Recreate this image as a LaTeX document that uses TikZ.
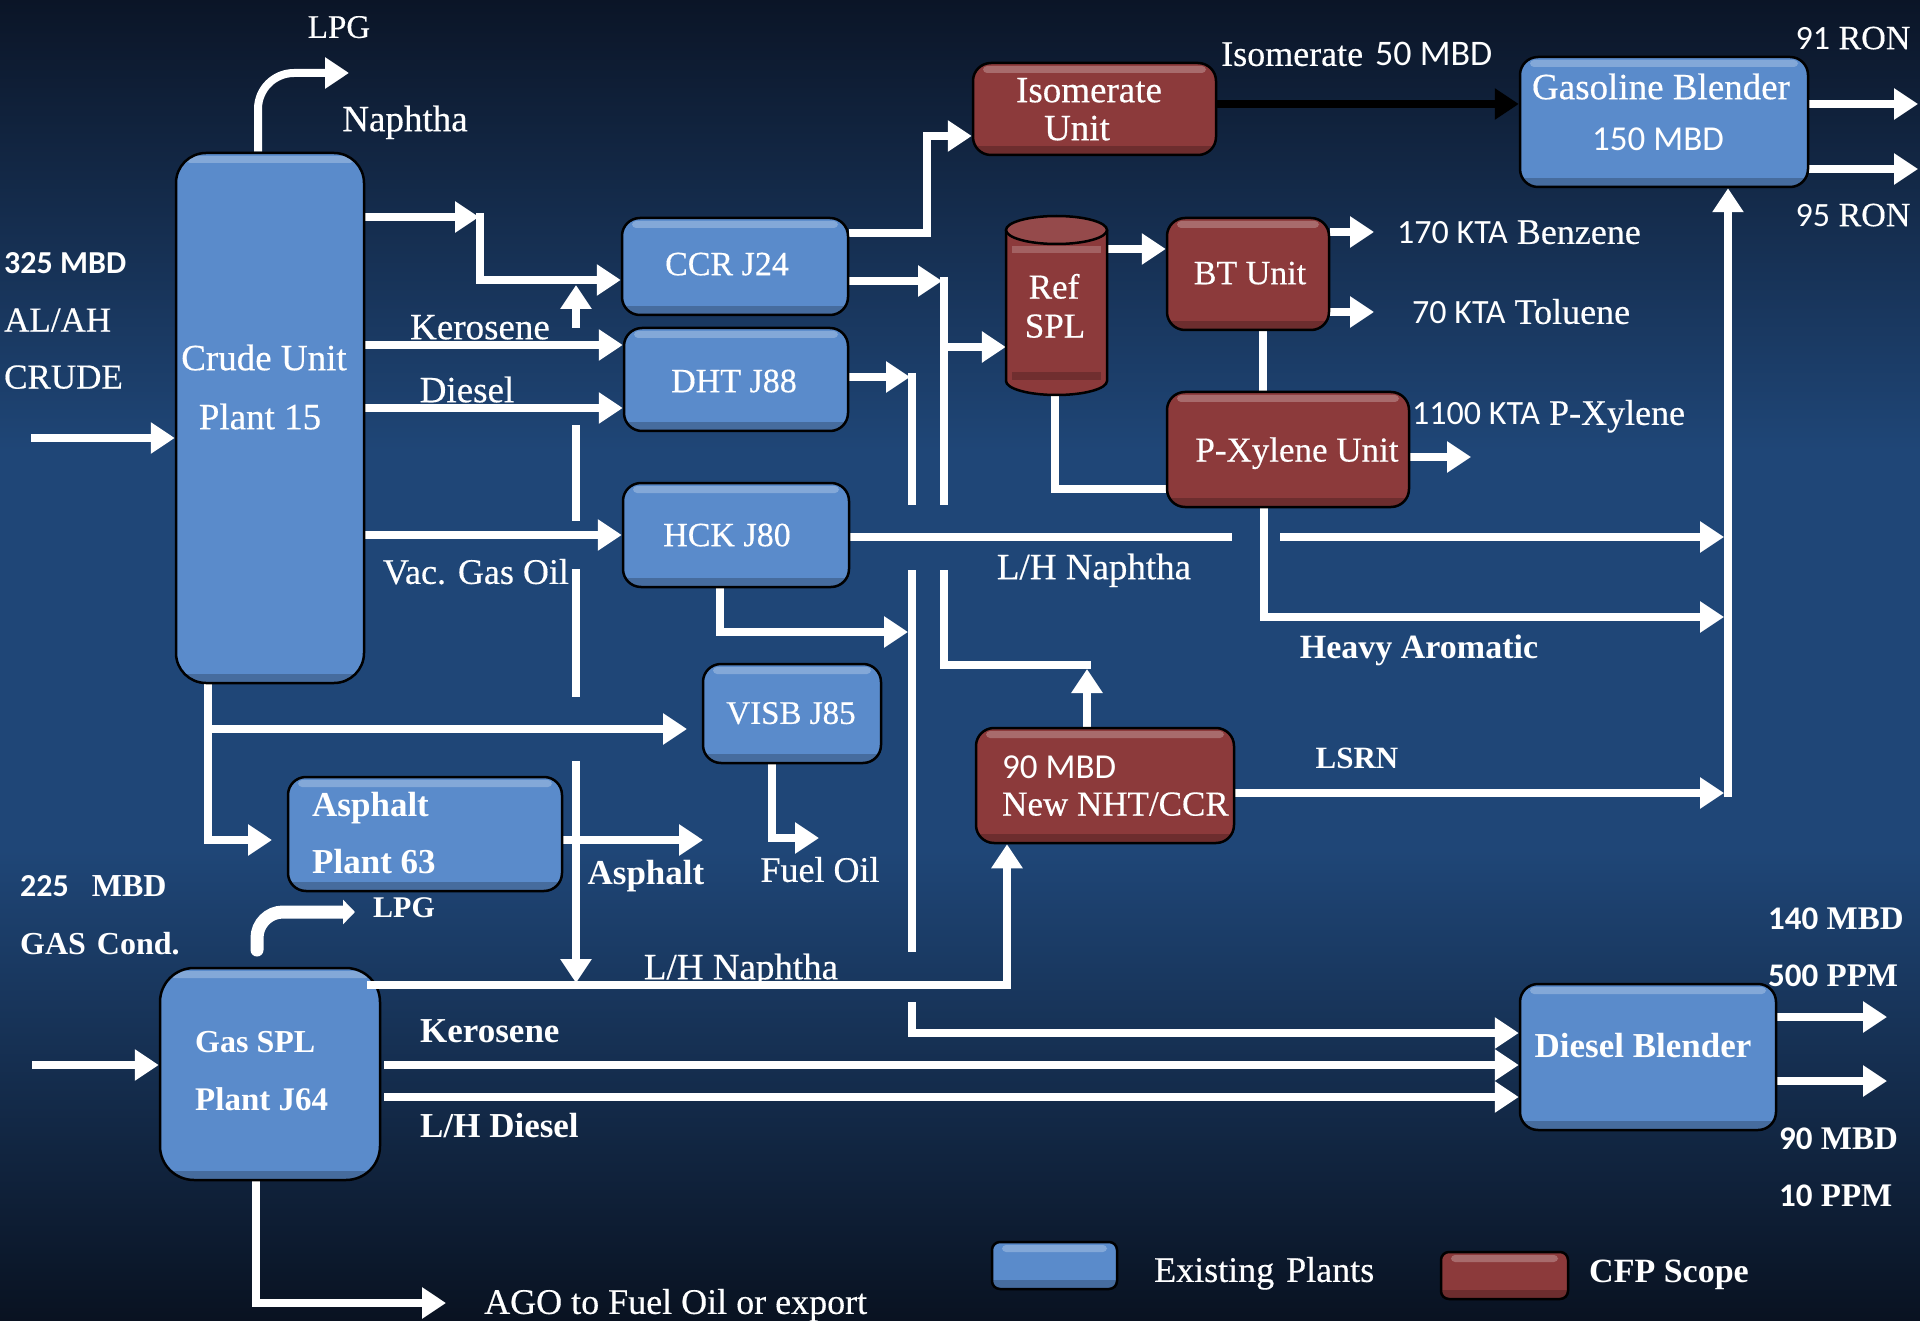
\documentclass[tikz,border=0pt]{standalone}
\usepackage{fontspec}
\setmainfont{Liberation Serif}
\newfontfamily\cf[FakeBold=0.4]{Liberation Serif}
\newfontfamily\sa{Carlito}
\usetikzlibrary{arrows.meta}
\definecolor{boxblue}{HTML}{5A8BCB}
\definecolor{boxred}{HTML}{8C3A3B}
\definecolor{bgtop}{HTML}{0B1527}
\definecolor{bgmid}{HTML}{1F4677}
\definecolor{bgbot}{HTML}{091221}
\newcommand\fs[1]{\fontsize{#1}{#1}\selectfont}
\pgfdeclarelayer{bgfill}
\pgfdeclarelayer{lines}
\pgfsetlayers{bgfill,lines,main}
\tikzset{
  unit/.style={draw=black, line width=2.5pt, rounded corners=18pt, inner sep=0pt,
    path picture={
      \fill[white, opacity=0.25, rounded corners=4pt]
        ([xshift=10pt,yshift=-3pt]path picture bounding box.north west) rectangle
        ([xshift=-10pt,yshift=-10pt]path picture bounding box.north east);
      \fill[black, opacity=0.22, sharp corners]
        ([yshift=9pt]path picture bounding box.south west) rectangle
        (path picture bounding box.south east);
    }},
  ublue/.style={unit, fill=boxblue},
  ured/.style={unit, fill=boxred},
  pipe/.style={draw=white, line width=8pt},
  flow/.style={pipe, -{Triangle[length=24pt,width=30pt]}},
  flowk/.style={draw=black, line width=8pt, -{Triangle[length=24pt,width=30pt]}},
  lpgb/.style={draw=white, line width=13pt, line cap=round, rounded corners=26pt,
    -{Triangle[length=12pt,width=24pt]}},
  lab/.style={text=white, inner sep=0pt, text height=0pt, text depth=0pt},
  cond/.style={lab, font=\cf\fs{#1}, yshift={-0.33*#1}},
  bold/.style={lab, font=\bfseries\fs{#1}, yshift={-0.33*#1}},
  sans/.style={lab, font=\sa\fs{#1}, yshift={-0.32*#1}},
}
\begin{document}
\begin{tikzpicture}[x=1pt,y=-1pt]
\useasboundingbox (0,0) rectangle (1920,1321);
% background
\begin{pgfonlayer}{bgfill}
\fill[top color=bgtop, bottom color=bgmid] (0,0) rectangle (1920,451);
\fill[bgmid] (0,450) rectangle (1920,851);
\fill[top color=bgmid, bottom color=bgbot] (0,850) rectangle (1920,1321);
\end{pgfonlayer}

% boxes
\node[ublue, minimum width=188pt, minimum height=530pt, rounded corners=30pt] (crude) at (270,418) {};
\node[ublue, minimum width=226pt, minimum height=97pt] (ccr) at (735,266.5) {};
\node[ublue, minimum width=224pt, minimum height=103pt] (dht) at (736,379.5) {};
\node[ublue, minimum width=226pt, minimum height=104pt] (hck) at (736,535) {};
\node[ublue, minimum width=178pt, minimum height=99pt] (visb) at (792,713.5) {};
\node[ured, minimum width=243pt, minimum height=92pt] (iso) at (1094.5,109) {};
\node[ured, minimum width=162pt, minimum height=112pt] (bt) at (1248,274) {};
\node[ured, minimum width=242pt, minimum height=115pt] (px) at (1288,449.5) {};
\node[ublue, minimum width=288pt, minimum height=130pt] (gasb) at (1664,122) {};
\node[ured, minimum width=258pt, minimum height=115pt] (nht) at (1105,785.5) {};
\node[ublue, minimum width=274pt, minimum height=114pt] (asph) at (425,834) {};
\node[ublue, minimum width=220pt, minimum height=212pt, rounded corners=34pt] (gasspl) at (270,1074) {};
\node[ublue, minimum width=256pt, minimum height=146pt] (dieselb) at (1648,1057) {};
\node[ublue, minimum width=125pt, minimum height=47pt, rounded corners=8pt] (legb) at (1054.5,1265.5) {};
\node[ured, minimum width=127pt, minimum height=47pt, rounded corners=8pt] (legr) at (1504.5,1275.5) {};
\node[inner sep=0pt, minimum width=101pt, minimum height=179pt] (refspl) at (1056.5,305.5) {};

% Ref SPL cylinder
\fill[boxred] (1006,230) rectangle (1107,381);
\fill[boxred] (1056.5,381) ellipse [x radius=50.5, y radius=14];
\fill[white, opacity=0.2] (1012,246) rectangle (1101,253);
\fill[black, opacity=0.2] (1012,372) rectangle (1101,380);
\draw[black, line width=2.5pt] (1006,230) -- (1006,381)
  arc[start angle=180, end angle=0, x radius=50.5, y radius=14] -- (1107,230);
\draw[black, line width=2.5pt, fill=boxred!92!white] (1056.5,230) ellipse [x radius=50.5, y radius=14];

% connectors
\begin{pgfonlayer}{lines}
\draw[flow] (31,438) -- (crude.west |- 0,438);
\draw[flow, rounded corners=36pt] (crude.north -| 258,0) |- (349,73);
\draw[flow] (crude.east |- 0,217) -- (479,217);
\draw[flow] (480,213) -- (480,280) -- (ccr.west |- 0,280);
\draw[flow] (576,328) -- (576,285);
\draw[flow] (crude.east |- 0,345) -- (dht.west |- 0,345);
\draw[flow] (crude.east |- 0,408) -- (dht.west |- 0,408);
\draw[flow] (crude.east |- 0,535) -- (hck.west);
\draw[pipe] (576,425) -- (576,521);
\draw[pipe] (576,569) -- (576,697);
\draw[flow] (576,761) -- (576,983);
\draw[flow] (crude.south -| 208,0) |- (272,840);
\draw[flow] (208,729) -- (687,729);
\draw[flow] (asph.east |- 0,840) -- (703,840);
\draw[flow] (visb.south -| 772,777) |- (819,838);
\draw[flow] (hck.south -| 720,0) |- (908,632);
\draw[flow] (ccr.east |- 0,233) -| (927,136) -- (iso.west |- 0,136);
\draw[flow] (ccr.east |- 0,281) -- (942,281);
\draw[pipe] (944,277) -- (944,505);
\draw[flow] (944,347) -- (refspl.west |- 0,347);
\draw[flow] (dht.east |- 0,377) -- (910,377);
\draw[pipe] (912,373) -- (912,505);
\draw[pipe] (912,570) -- (912,952);
\draw[pipe] (944,570) |- (1091,665);
\draw[flow] (nht.north -| 1087,0) -- (1087,669);
\draw[flow] (912,1002) |- (dieselb.west |- 0,1033);
\draw[pipe] (hck.east |- 0,537) -- (1232,537);
\draw[flow] (1280,537) -- (1724,537);
\draw[flow] (px.south -| 1264,0) |- (1724,617);
\draw[pipe] (bt.south -| 1263,0) -- (px.north -| 1263,0);
\draw[flow] (refspl.east |- 0,249) -- (bt.west |- 0,249);
\draw[pipe] (refspl.south -| 1055,0) |- (px.west |- 0,489);
\draw[flow] (bt.east |- 0,232) -- (1374,232);
\draw[flow] (bt.east |- 0,312) -- (1374,312);
\draw[flow] (px.east |- 0,457) -- (1471,457);
\draw[flowk] (iso.east |- 0,104) -- (gasb.west |- 0,104);
\draw[flow] (gasb.east |- 0,104) -- (1918,104);
\draw[flow] (gasb.east |- 0,169) -- (1918,169);
\draw[flow] (1728,797) -- (gasb.south -| 1728,0);
\draw[flow] (nht.east |- 0,793) -- (1724,793);
\draw[flow] (32,1065) -- (gasspl.west |- 0,1065);
\draw[flow] (384,1065) -- (dieselb.west |- 0,1065);
\draw[flow] (384,1097) -- (dieselb.west |- 0,1097);
\draw[flow] (gasspl.south -| 256,0) |- (446,1303);
\draw[lpgb] (257,950) |- (355,912);
\draw[flow] (dieselb.east |- 0,1017) -- (1887,1017);
\draw[flow] (dieselb.east |- 0,1081) -- (1887,1081);
\end{pgfonlayer}
\draw[flow] (367,985) -| (nht.south -| 1007,0);

% texts
\node[cond=33] (tlpg1) at (339,27) {LPG};
\node[cond=37] (tnaph) at (405,119) {Naphtha};
\node[sans=32, anchor=base west, font=\sa\bfseries\fs{32}] (t325) at (4,263) {325 MBD};
\node[cond=35, anchor=base west] (talah) at (4,320) {AL/AH};
\node[cond=35, anchor=base west] (tcrude) at (4,377) {CRUDE};
\node[cond=37] (tcu1) at (264,358) {Crude Unit};
\node[cond=37] (tcu2) at (260,417) {Plant 15};
\node[cond=37] (tker1) at (480,327) {Kerosene};
\node[cond=37] (tdsl) at (467,390) {Diesel};
\node[cond=36] (tvgo) at (476,572) {Vac. Gas Oil};
\node[cond=34] (tccr) at (727,264) {CCR J24};
\node[cond=34] (tdht) at (734,381) {DHT J88};
\node[cond=34] (thck) at (727,535) {HCK J80};
\node[cond=33] (tvisb) at (791,713) {VISB J85};
\node[cond=37] (tiso1) at (1089,90) {Isomerate};
\node[cond=37] (tiso2) at (1077,128) {Unit};
\node[cond=36, anchor=base west] (tiso50) at (1221,54) {Isomerate\hspace{12pt}{\sa\fs{36}50 MBD}};
\node[cond=35] (tref) at (1054,287) {Ref};
\node[cond=35] (tspl) at (1055,326) {SPL};
\node[cond=34] (tbt) at (1250,273) {BT Unit};
\node[cond=36, anchor=base west] (tbenz) at (1397,232) {{\sa\fs{34}170 KTA} Benzene};
\node[cond=36, anchor=base west] (ttol) at (1412,312) {{\sa\fs{34}70 KTA} Toluene};
\node[cond=35] (tpx) at (1297,450) {P-Xylene Unit};
\node[cond=36, anchor=base west] (tpxo) at (1412,413) {{\sa\fs{34}1100 KTA} P-Xylene};
\node[cond=37] (tgb1) at (1661,87) {Gasoline Blender};
\node[sans=35] (tgb2) at (1658,139) {150 MBD};
\node[cond=34] (t91) at (1853,38) {{\sa\fs{34}91} RON};
\node[cond=34] (t95) at (1853,215) {{\sa\fs{34}95} RON};
\node[cond=37] (tlhn1) at (1094,567) {L/H Naphtha};
\node[bold=34] (theavy) at (1419,647) {Heavy Aromatic};
\node[bold=31] (tlsrn) at (1357,758) {LSRN};
\node[sans=35, anchor=base west] (tnht1) at (1002,767) {90 MBD};
\node[cond=35, anchor=base west] (tnht2) at (1002,804) {New NHT/CCR};
\node[bold=35, anchor=base west] (tas1) at (312,805) {Asphalt};
\node[bold=35, anchor=base west] (tas2) at (312,862) {Plant 63};
\node[bold=35] (tasph) at (646,873) {Asphalt};
\node[cond=36] (tfo) at (820,870) {Fuel Oil};
\node[bold=32, anchor=base west] (t225) at (20,886) {{\sa 225}\hspace{23pt}MBD};
\node[bold=32, anchor=base west] (tgas) at (20,944) {GAS\hspace{11pt}Cond.};
\node[bold=30, anchor=base west] (tlpg2) at (373,908) {LPG};
\node[bold=32, anchor=base west] (tgs1) at (195,1042) {Gas SPL};
\node[bold=33, anchor=base west] (tgs2) at (195,1100) {Plant J64};
\node[bold=35, anchor=base west] (tker2) at (420,1031) {Kerosene};
\node[bold=35, anchor=base west] (tlhd) at (420,1126) {L/H Diesel};
\node[cond=37] (tlhn2) at (741,967) {L/H Naphtha};
\node[cond=36, anchor=base west] (tago) at (484,1302) {AGO to Fuel Oil or export};
\node[bold=35] (tdb) at (1643,1046) {Diesel Blender};
\node[bold=33, anchor=base west] (t140) at (1768,919) {{\sa 140} MBD};
\node[bold=33, anchor=base west] (t500) at (1768,976) {{\sa 500} PPM};
\node[bold=33, anchor=base west] (t90) at (1779,1139) {{\sa 90} MBD};
\node[bold=33, anchor=base west] (t10) at (1779,1196) {{\sa 10} PPM};
\node[cond=36, anchor=base west] (texist) at (1154,1270) {Existing\hspace{12pt}Plants};
\node[bold=34, anchor=base west] (tcfp) at (1589,1271) {CFP Scope};
\end{tikzpicture}
\end{document}
